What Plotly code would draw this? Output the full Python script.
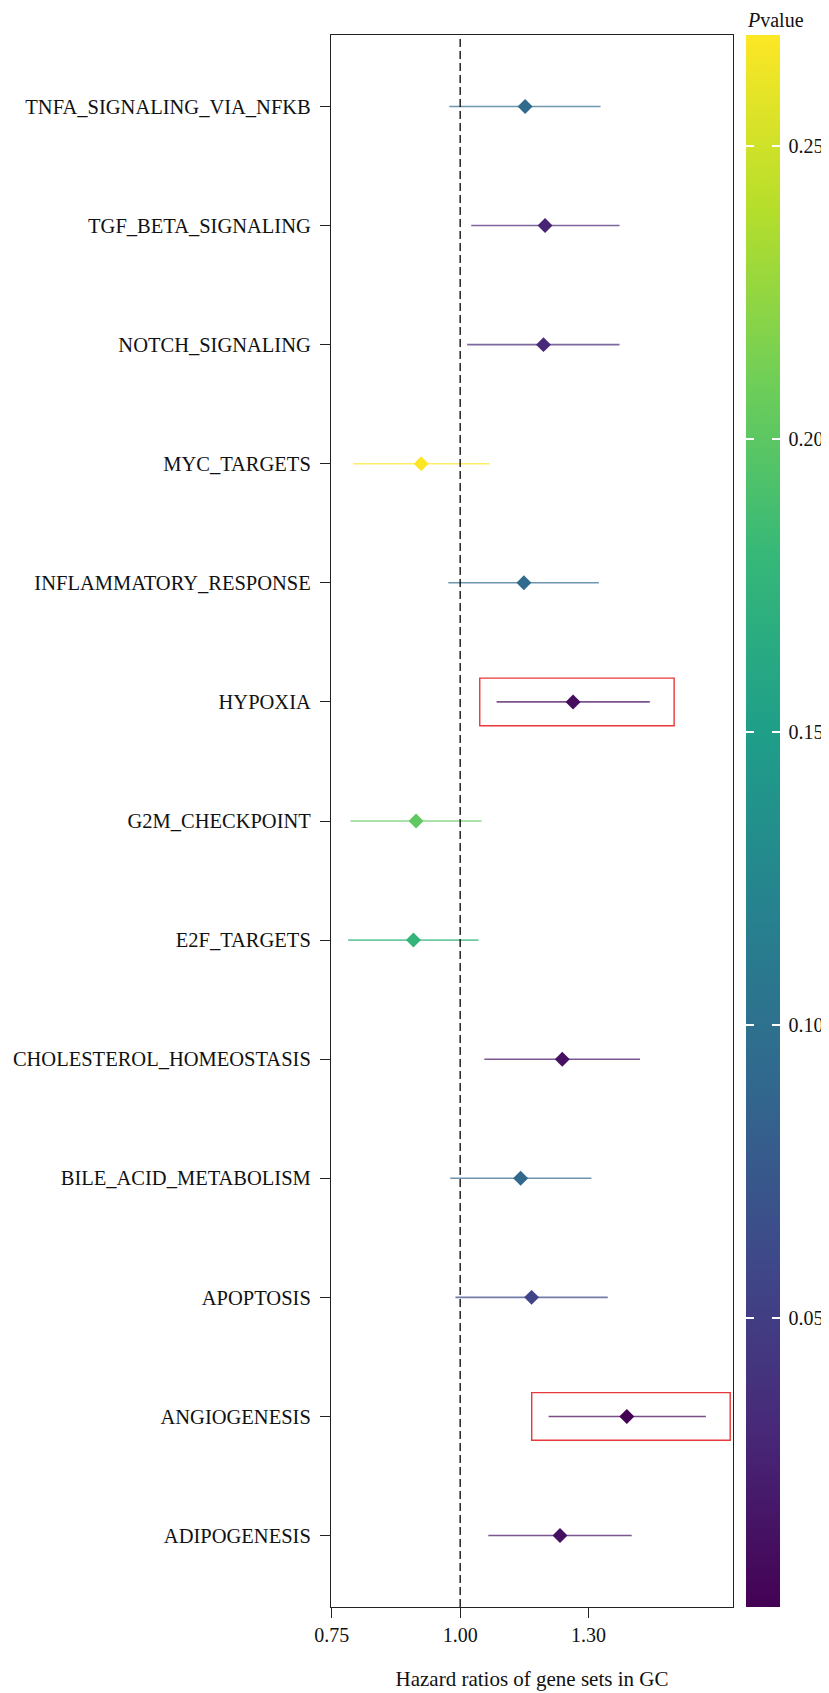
import plotly.graph_objects as go
from plotly.colors import sample_colorscale
import math

# Data (top-to-bottom order as shown)
gene_sets = ["TNFA_SIGNALING_VIA_NFKB", "TGF_BETA_SIGNALING", "NOTCH_SIGNALING", "MYC_TARGETS",
             "INFLAMMATORY_RESPONSE", "HYPOXIA", "G2M_CHECKPOINT", "E2F_TARGETS",
             "CHOLESTEROL_HOMEOSTASIS", "BILE_ACID_METABOLISM", "APOPTOSIS", "ANGIOGENESIS",
             "ADIPOGENESIS"]
hr = [1.149, 1.199, 1.195, 0.920, 1.146, 1.273, 0.910, 0.905, 1.244, 1.138, 1.165, 1.428, 1.238]
ci_low = [0.977, 1.024, 1.015, 0.796, 0.975, 1.081, 0.791, 0.787, 1.053, 0.979, 0.990, 1.208, 1.062]
ci_high = [1.350, 1.406, 1.406, 1.065, 1.345, 1.500, 1.047, 1.040, 1.469, 1.324, 1.371, 1.691, 1.443]
pvalue = [0.094, 0.027, 0.032, 0.269, 0.093, 0.008, 0.202, 0.176, 0.013, 0.090, 0.057, 0.0006, 0.012]
highlighted = ["HYPOXIA", "ANGIOGENESIS"]

x_tickvals = [0.76, 1.0, 1.316]
x_ticktext = ["0.75", "1.00", "1.30"]
cb_tickvals = [0.05, 0.10, 0.15, 0.20, 0.25]
cb_ticktext = ["\u20090.05", "\u20090.10", "\u20090.15", "\u20090.20", "\u20090.25"]

FONT = "Liberation Serif"
cmin, cmax = min(pvalue), max(pvalue)
order = list(reversed(gene_sets))  # bottom-to-top for the category axis
CB_X = 1.0325

fig = go.Figure()

# Confidence-interval lines, coloured by p-value
for g, lo, hi, p in zip(gene_sets, ci_low, ci_high, pvalue):
    col = sample_colorscale("Viridis", [(p - cmin) / (cmax - cmin)])[0]
    fig.add_trace(go.Scatter(x=[lo, hi], y=[g, g], mode="lines",
                             line=dict(color=col, width=1.6), opacity=0.7,
                             showlegend=False, hoverinfo="skip"))

# Point estimates
fig.add_trace(go.Scatter(
    x=hr, y=gene_sets, mode="markers", showlegend=False,
    marker=dict(symbol="diamond", size=11.5, color=pvalue, colorscale="Viridis",
                cmin=cmin, cmax=cmax, line=dict(width=0),
                showscale=True,
                colorbar=dict(
                    thickness=34, thicknessmode="pixels",
                    len=1, lenmode="fraction", y=0.5, yanchor="middle",
                    x=CB_X, xanchor="left", xpad=0, ypad=0,
                    outlinewidth=0,
                    tickvals=cb_tickvals, ticktext=cb_ticktext,
                    ticks="inside", ticklen=8, tickcolor="white", tickwidth=1.5,
                    tickfont=dict(family=FONT, size=20, color="#111"),
                ))))

# Transparent companion colour bar: only draws the white ticks on the bar's left edge
fig.add_trace(go.Scatter(
    x=[None], y=[None], mode="markers", showlegend=False, hoverinfo="skip",
    marker=dict(color=[cmin], cmin=cmin, cmax=cmax,
                colorscale=[[0, "rgba(0,0,0,0)"], [1, "rgba(0,0,0,0)"]],
                showscale=True,
                colorbar=dict(
                    thickness=8, thicknessmode="pixels",
                    len=1, lenmode="fraction", y=0.5, yanchor="middle",
                    x=CB_X, xanchor="left", xpad=0, ypad=0,
                    outlinewidth=0, showticklabels=False,
                    tickvals=cb_tickvals,
                    ticks="inside", ticklen=8, tickcolor="white", tickwidth=1.5,
                ))))

# Colour-bar title
fig.add_annotation(text="<i>P</i>value", xref="paper", yref="paper",
                   x=1.029, y=1.0095, xanchor="left", yanchor="middle",
                   showarrow=False, font=dict(family=FONT, size=20, color="#111"))

# Reference line at HR = 1
fig.add_shape(type="line", x0=1, x1=1, xref="x", y0=0, y1=1, yref="paper",
              line=dict(color="black", width=1.3, dash="8px,4px"), layer="above")

# Highlight boxes around selected gene sets
for g in highlighted:
    i = gene_sets.index(g)
    yi = order.index(g)
    fig.add_shape(type="rect", xref="x", yref="y",
                  x0=ci_low[i] / math.exp(0.036), x1=ci_high[i] * math.exp(0.052),
                  y0=yi - 0.2, y1=yi + 0.2,
                  line=dict(color="#e8383b", width=1.4), layer="above")

fig.update_xaxes(type="log", range=[math.log10(0.7587), math.log10(1.792)],
                 tickvals=x_tickvals, ticktext=x_ticktext, automargin=False,
                 ticks="outside", ticklen=10, tickwidth=1, tickcolor="#222",
                 showline=True, linecolor="#222", linewidth=1.2, mirror=True,
                 showgrid=False, zeroline=False,
                 tickfont=dict(family=FONT, size=20, color="#111"),
                 title=dict(text="Hazard ratios of gene sets in GC", standoff=26,
                            font=dict(family=FONT, size=21, color="#111")))
fig.update_yaxes(type="category", categoryorder="array", categoryarray=order,
                 range=[-0.6, len(order) - 1 + 0.6], automargin=False,
                 ticks="outside", ticklen=10, tickwidth=1, tickcolor="#222",
                 ticklabelstandoff=5,
                 showline=True, linecolor="#222", linewidth=1.2, mirror=True,
                 showgrid=False, zeroline=False,
                 tickfont=dict(family=FONT, size=20.5, color="#111"))

# The page body adds an 8px offset, so the figure is sized to end at the window edge
fig.update_layout(width=821, height=1685,
                  margin=dict(l=323, r=96, t=27, b=86, autoexpand=False),
                  plot_bgcolor="white", paper_bgcolor="white",
                  font=dict(family=FONT, color="#111"))

fig.write_html("out.html")
